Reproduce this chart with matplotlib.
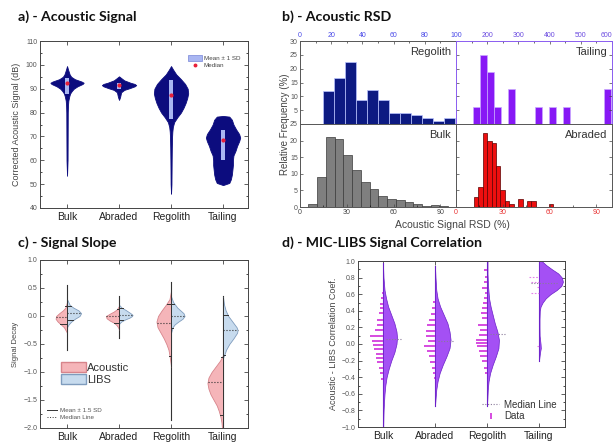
import matplotlib.pyplot as plt
import numpy as np
from matplotlib.patches import Patch, Rectangle
from matplotlib.lines import Line2D
from matplotlib.ticker import AutoMinorLocator, MultipleLocator

plt.rcParams['font.family'] = ['Liberation Sans', 'DejaVu Sans']

cats = ["Bulk", "Abraded", "Regolith", "Tailing"]

# ---- a) acoustic signal violins (dB level, half width in category units)
a_bulk_y = [99.5, 98, 96, 95, 94, 93, 92.5, 92, 91, 90, 89, 88, 87, 86, 85, 83, 80, 70, 60, 53.5]
a_bulk_w = [0, 0.02, 0.05, 0.08, 0.15, 0.28, 0.32, 0.3, 0.2, 0.13, 0.09, 0.06, 0.045, 0.035, 0.025, 0.018, 0.014, 0.012, 0.01, 0]
a_abr_y = [95.2, 94.5, 93.5, 92.5, 92, 91.5, 91, 90.2, 89.5, 88.5, 87.5, 86.5, 85.3]
a_abr_w = [0, 0.04, 0.1, 0.22, 0.3, 0.33, 0.3, 0.2, 0.1, 0.04, 0.03, 0.02, 0]
a_reg_y = [99.5, 98, 96, 94, 92, 90, 88, 86, 84, 82, 80, 78, 76, 74, 72, 70, 65, 60, 55, 50, 46]
a_reg_w = [0, 0.04, 0.1, 0.19, 0.27, 0.32, 0.33, 0.31, 0.28, 0.24, 0.19, 0.12, 0.06, 0.035, 0.025, 0.02, 0.015, 0.012, 0.01, 0.008, 0]
a_tail_y = [78.6, 78.3, 77, 75, 73, 71, 69.5, 68, 66, 64, 62, 60, 58, 56, 54, 52, 50.5, 49.6]
a_tail_w = [0, 0.12, 0.17, 0.2, 0.25, 0.31, 0.33, 0.31, 0.27, 0.24, 0.2, 0.19, 0.19, 0.18, 0.17, 0.15, 0.12, 0]
a_sd_lo = [87.6, 90.0, 77.3, 60.0]
a_sd_hi = [94.3, 92.5, 93.6, 72.7]
a_median = [92.2, 91.5, 87.5, 68.7]

# ---- b) RSD histograms (bin start, bin width, heights %)
reg_start, reg_width = 14.6, 7.07
reg_heights = [11.8, 16.5, 22.5, 8.7, 12.3, 8.7, 4.1, 4.1, 3.1, 2.2, 1.0, 2.2]
tail_start, tail_width = 156, 22
tail_heights = [6.25, 25, 18.75, 6.25, 0, 12.5, 0, 0, 0, 6.25, 0, 6.25, 0, 6.25, 0, 0, 0, 0, 0, 12.5]
bulk_start, bulk_width = 5.4, 5.6
bulk_heights = [1.0, 9.0, 21.0, 20.4, 15.6, 11.1, 7.4, 5.4, 3.4, 2.4, 2.1, 1.6, 0.8, 0.4, 0.7, 0.3]
abr_start, abr_width = 11.5, 2.83
abr_heights = [3.0, 5.9, 22.4, 20.0, 19.2, 12.2, 5.2, 1.8, 0.9, 0, 2.5, 0, 1.8, 1.8, 0, 0, 0, 1.0]

# ---- c) signal slope split violins
c_ac_y = [[0.25, 0.15, 0.1, 0.05, 0, -0.05, -0.1, -0.15, -0.2, -0.25, -0.3],
          [0.18, 0.12, 0.08, 0.04, 0, -0.04, -0.08, -0.12, -0.16, -0.2, -0.24],
          [0.45, 0.3, 0.2, 0.1, 0, -0.1, -0.2, -0.3, -0.4, -0.5, -0.6, -0.7, -0.8, -0.9],
          [-0.7, -0.8, -0.9, -1.0, -1.1, -1.2, -1.3, -1.4, -1.5, -1.6, -1.7, -1.8, -1.9, -2.0]]
c_ac_w = [[0, 0.03, 0.08, 0.15, 0.21, 0.22, 0.18, 0.12, 0.06, 0.03, 0],
          [0, 0.04, 0.1, 0.18, 0.25, 0.24, 0.18, 0.1, 0.05, 0.02, 0],
          [0, 0.03, 0.1, 0.18, 0.25, 0.28, 0.26, 0.2, 0.14, 0.09, 0.05, 0.03, 0.015, 0],
          [0, 0.06, 0.14, 0.22, 0.28, 0.30, 0.28, 0.24, 0.18, 0.12, 0.08, 0.05, 0.03, 0.02]]
c_li_y = [[0.3, 0.2, 0.15, 0.1, 0.05, 0, -0.05, -0.1, -0.15, -0.2],
          [0.2, 0.15, 0.1, 0.05, 0.02, 0, -0.03, -0.06, -0.1, -0.14],
          [0.35, 0.25, 0.15, 0.1, 0.05, 0, -0.05, -0.1, -0.15, -0.2, -0.3],
          [0.33, 0.2, 0.1, 0, -0.1, -0.2, -0.25, -0.3, -0.4, -0.5, -0.6, -0.7, -0.75]]
c_li_w = [[0, 0.05, 0.12, 0.22, 0.27, 0.24, 0.15, 0.08, 0.03, 0],
          [0, 0.05, 0.14, 0.22, 0.26, 0.25, 0.2, 0.12, 0.04, 0],
          [0, 0.04, 0.12, 0.18, 0.24, 0.26, 0.22, 0.14, 0.07, 0.03, 0],
          [0, 0.02, 0.05, 0.1, 0.18, 0.26, 0.28, 0.27, 0.2, 0.12, 0.06, 0.02, 0]]
c_tail_top = [0.55, 0.35, 0.6, 0.35]
c_tail_bot = [-0.6, -0.4, -1.85, -2.0]
c_ac_median = [-0.02, 0.0, -0.13, -1.18]
c_li_median = [0.05, 0.02, 0.0, -0.25]
c_ac_sd = [[0.17, -0.14], [0.12, -0.12], [0.22, -0.72], [-0.73, -1.77]]
c_li_sd = [[0.18, -0.08], [0.14, -0.08], [0.22, -0.22], [0.02, -0.7]]

# ---- d) MIC-LIBS correlation half violins + data rugs
d_y = [[0.97, 0.8, 0.65, 0.55, 0.45, 0.35, 0.25, 0.15, 0.08, 0.0, -0.1, -0.2, -0.3, -0.4, -0.5, -0.6, -0.7, -0.8, -0.9, -1.0],
       [0.94, 0.8, 0.65, 0.55, 0.45, 0.35, 0.25, 0.15, 0.05, -0.05, -0.15, -0.25, -0.35, -0.45, -0.55, -0.65, -0.75],
       [1.0, 0.85, 0.7, 0.55, 0.45, 0.35, 0.25, 0.15, 0.05, -0.05, -0.15, -0.25, -0.35, -0.45, -0.55, -0.65, -0.75],
       [1.0, 0.95, 0.9, 0.85, 0.8, 0.75, 0.7, 0.65, 0.6, 0.55, 0.5, 0.45, 0.4, 0.3, 0.2, 0.1, 0.0, -0.05, -0.1, -0.2]]
d_w = [[0.0, 0.01, 0.03, 0.06, 0.1, 0.16, 0.22, 0.26, 0.27, 0.26, 0.22, 0.16, 0.11, 0.07, 0.045, 0.03, 0.02, 0.012, 0.008, 0.005],
       [0, 0.01, 0.025, 0.05, 0.1, 0.17, 0.24, 0.28, 0.3, 0.28, 0.22, 0.15, 0.09, 0.05, 0.025, 0.012, 0],
       [0.01, 0.01, 0.02, 0.04, 0.07, 0.11, 0.15, 0.2, 0.23, 0.22, 0.17, 0.11, 0.06, 0.03, 0.015, 0.008, 0],
       [0.05, 0.14, 0.25, 0.37, 0.44, 0.46, 0.43, 0.34, 0.22, 0.13, 0.07, 0.03, 0.015, 0.01, 0.01, 0.012, 0.03, 0.035, 0.02, 0]]
d_data_y = [[0.62, 0.55, 0.48, 0.43, 0.37, 0.29, 0.23, 0.17, 0.10, 0.04, -0.01, -0.06, -0.12, -0.17, -0.22, -0.29, -0.35, -0.42],
            [0.51, 0.43, 0.36, 0.29, 0.23, 0.16, 0.10, 0.04, -0.02, -0.08, -0.15, -0.22, -0.29, -0.35, -0.41],
            [0.89, 0.81, 0.75, 0.67, 0.61, 0.55, 0.49, 0.43, 0.37, 0.31, 0.23, 0.17, 0.11, 0.05, 0.01, -0.03, -0.09, -0.15, -0.21, -0.29, -0.35],
            [0.81, 0.75, 0.69, 0.62, -0.02]]
d_data_len = [[0.02, 0.04, 0.05, 0.06, 0.07, 0.12, 0.11, 0.15, 0.24, 0.22, 0.20, 0.17, 0.14, 0.13, 0.11, 0.08, 0.06, 0.04],
              [0.04, 0.06, 0.08, 0.12, 0.15, 0.17, 0.18, 0.13, 0.21, 0.15, 0.12, 0.10, 0.06, 0.04, 0.02],
              [0.06, 0.03, 0.06, 0.1, 0.045, 0.06, 0.08, 0.1, 0.11, 0.1, 0.17, 0.13, 0.15, 0.22, 0.21, 0.19, 0.16, 0.13, 0.1, 0.06, 0.045],
              [0.2, 0.16, 0.03, 0.16, 0.03]]
d_median = [0.06, 0.04, 0.12, 0.74]

W, H = 613, 442
fig = plt.figure(figsize=(W / 100, H / 100), dpi=100)


def box(x0, y0, x1, y1):
    return [x0 / W, 1 - y1 / H, (x1 - x0) / W, (y1 - y0) / H]


def title(x, y, s):
    fig.text(x / W, 1 - y / H, s, fontsize=10.2, fontweight='bold', family=['Lato', 'DejaVu Sans'],
             va='center', ha='left', color='#111')


def cat_axes(ax, xlim, ylim, step, fmt):
    ax.set_xlim(*xlim)
    ax.set_ylim(*ylim)
    ax.set_xticks(range(4))
    ax.set_xticklabels(cats, fontsize=7.5, color='#222')
    ax.yaxis.set_major_locator(MultipleLocator(step))
    ax.yaxis.set_minor_locator(AutoMinorLocator(2))
    ax.yaxis.set_major_formatter(fmt)
    ax.tick_params(direction='in', top=True, right=True, length=3, width=0.6, color='#444')
    ax.tick_params(axis='y', which='minor', direction='in', right=True, length=1.5, width=0.5)
    ax.tick_params(axis='y', labelsize=5, labelcolor='#555', pad=2)
    ax.tick_params(axis='x', pad=3)
    for sp in ax.spines.values():
        sp.set_color('#444')
        sp.set_linewidth(0.7)


# ================= a)
navy = '#0c0c7e'
ax = fig.add_axes(box(40, 41, 248, 208))
a_shapes = [(a_bulk_y, a_bulk_w), (a_abr_y, a_abr_w), (a_reg_y, a_reg_w), (a_tail_y, a_tail_w)]
for i, (ys, ws) in enumerate(a_shapes):
    ys, ws = np.array(ys), np.array(ws)
    ax.fill_betweenx(ys, i - ws, i + ws, color=navy, lw=0.6)
    ax.add_patch(Rectangle((i - 0.035, a_sd_lo[i]), 0.07, a_sd_hi[i] - a_sd_lo[i],
                           fc='#a9b6f2', ec='none', zorder=3))
    ax.plot(i, a_median[i], marker='o', ms=2, color='#e8203a', zorder=4)
cat_axes(ax, (-0.52, 3.48), (40, 110), 10, '{x:.0f}')
ax.set_ylabel('Corrected Acoustic Signal (dB)', fontsize=6.5, color='#444', labelpad=3)
ax.legend([Patch(fc='#a9b6f2', ec='#6070d0', lw=0.4),
           Line2D([], [], marker='o', ms=1.8, color='#e8203a', ls='none')],
          ['Mean \u00b1 1 SD', 'Median'], loc='upper right', bbox_to_anchor=(0.99, 0.95),
          fontsize=4.5, frameon=False, handlelength=2.2, handleheight=1.0,
          labelspacing=0.2, handletextpad=0.3, labelcolor='#444')
title(18, 17, 'a) - Acoustic Signal')

# ================= b)
hist_specs = [
    (box(300, 41, 456, 124), reg_start, reg_width, reg_heights, '#0d1a82', '#b9c3ff', 'Regolith', (0, 100), 30),
    (box(456, 41, 612, 124), tail_start, tail_width, tail_heights, '#8718f5', '#c8a8ff', 'Tailing', (100, 600), 30),
    (box(300, 124, 456, 207), bulk_start, bulk_width, bulk_heights, '#7f7f7f', '#3a3a3a', 'Bulk', (0, 100), 25),
    (box(456, 124, 612, 207), abr_start, abr_width, abr_heights, '#ee0f0f', '#5a0000', 'Abraded', (0, 100), 25),
]
for k, (rect, start, width, heights, fc, ec, name, xl, ytop) in enumerate(hist_specs):
    bx = fig.add_axes(rect)
    lefts = start + width * np.arange(len(heights))
    bx.bar(lefts, heights, width=width, align='edge', color=fc, edgecolor=ec, linewidth=0.5)
    bx.set_xlim(*xl)
    bx.set_ylim(0, ytop)
    bx.text(0.97, 0.93, name, transform=bx.transAxes, ha='right', va='top', fontsize=8, color='#333')
    bx.yaxis.set_major_locator(MultipleLocator(5))
    bx.tick_params(direction='in', length=2.5, width=0.5, labelsize=5, color='#444', pad=1.5)
    bx.tick_params(which='minor', direction='in', length=1.5, width=0.4)
    bx.xaxis.set_minor_locator(AutoMinorLocator(2))
    for sp in bx.spines.values():
        sp.set_linewidth(0.7)
        sp.set_color('#555')
    if k == 0:
        bx.xaxis.tick_top()
        bx.xaxis.set_major_locator(MultipleLocator(20))
        bx.tick_params(axis='x', labelcolor='#4a4ae8')
        bx.set_yticks(range(5, 31, 5))
    elif k == 1:
        bx.xaxis.tick_top()
        bx.xaxis.set_major_locator(MultipleLocator(100))
        bx.set_xticks(range(200, 601, 100))
        bx.tick_params(axis='x', labelcolor='#6a4ae0')
        bx.tick_params(axis='y', labelleft=False, right=True)
        bx.get_xticklabels()[-1].set_horizontalalignment('right')
        for sp in bx.spines.values():
            sp.set_color('#8a5cf0')
    elif k == 2:
        bx.xaxis.set_major_locator(MultipleLocator(30))
        bx.tick_params(axis='x', labelcolor='#444')
    else:
        bx.xaxis.set_major_locator(MultipleLocator(30))
        bx.tick_params(axis='x', labelcolor='#e83030')
        bx.tick_params(axis='y', labelleft=False, right=True)
    bx.tick_params(axis='y', labelcolor='#555')
fig.text(285 / W, 1 - 124 / H, 'Relative Frequency (%)', rotation=90, fontsize=7,
         color='#444', ha='center', va='center')
fig.text(452 / W, 1 - 225 / H, 'Acoustic Signal RSD (%)', fontsize=7.5,
         color='#444', ha='center', va='center')
title(282, 17, 'b) - Acoustic RSD')

# ================= c)
pink_f, pink_e = '#f5b5b9', '#d7848b'
blue_f, blue_e = '#c7dbee', '#7f9cbd'
cx = fig.add_axes(box(40, 260, 248, 428))
for i in range(4):
    cx.plot([i, i], [c_tail_bot[i], c_tail_top[i]], color='#333', lw=0.8, zorder=1)
    ay, aw = np.array(c_ac_y[i]), np.array(c_ac_w[i])
    ly, lw_ = np.array(c_li_y[i]), np.array(c_li_w[i])
    cx.fill_betweenx(ay, i - aw, i, fc=pink_f, ec=pink_e, lw=0.6, zorder=2)
    cx.fill_betweenx(ly, i, i + lw_, fc=blue_f, ec=blue_e, lw=0.6, zorder=2)
    cx.plot([i, i], [min(ay.min(), ly.min()), max(ay.max(), ly.max())], color='#333', lw=0.7, zorder=3)
    am = np.interp(c_ac_median[i], ay[::-1], aw[::-1])
    lm = np.interp(c_li_median[i], ly[::-1], lw_[::-1])
    cx.plot([i - am, i], [c_ac_median[i]] * 2, ls=':', color='#333', lw=0.8, zorder=4)
    cx.plot([i, i + lm], [c_li_median[i]] * 2, ls=':', color='#333', lw=0.8, zorder=4)
    for v in c_ac_sd[i]:
        ww = max(np.interp(v, ay[::-1], aw[::-1]), 0.04)
        cx.plot([i - ww, i], [v, v], color='#333', lw=0.7, zorder=4)
    for v in c_li_sd[i]:
        ww = max(np.interp(v, ly[::-1], lw_[::-1]), 0.04)
        cx.plot([i, i + ww], [v, v], color='#333', lw=0.7, zorder=4)
cat_axes(cx, (-0.52, 3.48), (-2.0, 1.0), 0.5, '{x:.1f}')
cx.set_ylabel('Signal Decay', fontsize=5.5, color='#444', labelpad=3)
leg1 = cx.legend([Patch(fc=pink_f, ec=pink_e), Patch(fc=blue_f, ec=blue_e)], ['Acoustic', 'LIBS'],
                 loc='upper left', bbox_to_anchor=(0.08, 0.42), fontsize=8, frameon=False,
                 handlelength=2.2, handleheight=1.0, handletextpad=0.1, labelspacing=0.1,
                 borderaxespad=0, labelcolor='#333')
cx.add_artist(leg1)
cx.legend([Line2D([], [], color='#333', lw=0.7), Line2D([], [], color='#333', lw=0.7, ls=':')],
          ['Mean \u00b1 1.5 SD', 'Median Line'], loc='lower left', bbox_to_anchor=(0.02, 0.03),
          fontsize=4.5, frameon=False, handlelength=1.6, handletextpad=0.6, labelspacing=0.3,
          borderaxespad=0, labelcolor='#555')
title(18, 243, 'c) - Signal Slope')

# ================= d)
purple_f, purple_e = '#a450f4', '#6a1fc8'
rug_c = '#d64ce0'
dx = fig.add_axes(box(358, 261, 565, 427))
for i in range(4):
    ys, ws = np.array(d_y[i]), np.array(d_w[i])
    dx.plot([i, i], [ys.min(), ys.max()], color=purple_e, lw=0.8, zorder=2)
    dx.fill_betweenx(ys, i, i + ws, fc=purple_f, ec=purple_e, lw=0.5, zorder=2)
    yd, ld = np.array(d_data_y[i]), np.array(d_data_len[i])
    if i < 3:
        dx.hlines(yd, i - ld, i, color=rug_c, lw=1.4, zorder=3)
    else:
        dx.hlines(yd, i - ld, i, color=rug_c, lw=0.8, ls=(0, (1.5, 1.5)), alpha=0.7, zorder=3)
    x0 = i - 0.16 if i == 3 else i + 0.06
    dx.hlines(d_median[i], x0, i + 0.34, color='#8a7a9a', lw=0.8, ls=(0, (1, 1.5)), zorder=4)
cat_axes(dx, (-0.48, 3.5), (-1.0, 1.0), 0.2, '{x:.1f}')
dx.set_ylabel('Acoustic - LIBS Correlation Coef.', fontsize=6.5, color='#444', labelpad=2)
dx.legend([Line2D([], [], color='#8a7a9a', lw=0.8, ls=(0, (1, 1.5))),
           Line2D([], [], color=rug_c, marker='|', ms=5, mew=1.4, ls='none')],
          ['Median Line', 'Data'], loc='lower right', bbox_to_anchor=(0.98, 0.01),
          fontsize=7, frameon=False, handlelength=1.8, handletextpad=0.5, labelspacing=0.2,
          borderaxespad=0, labelcolor='#333')
title(282, 243, 'd) - MIC-LIBS Signal Correlation')

fig.savefig('out.png', dpi=100)
